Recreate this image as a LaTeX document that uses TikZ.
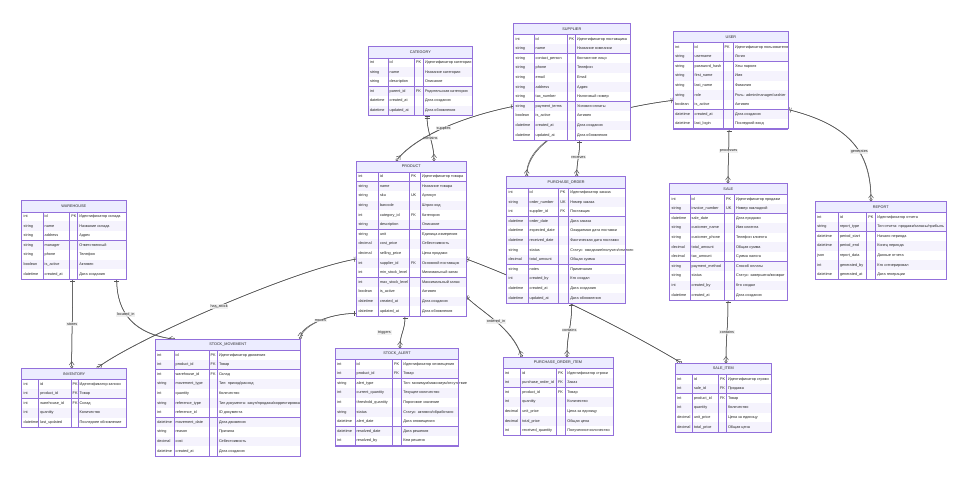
\documentclass[tikz,border=0pt]{standalone}
\usepackage{fontspec}
\setmainfont{Liberation Sans}
\usetikzlibrary{positioning,arrows.meta,calc}
\pgfdeclarelayer{paper}
\pgfdeclarelayer{background}
\pgfsetlayers{paper,background,main}
\definecolor{erborder}{HTML}{9370DB}
\definecolor{erhead}{HTML}{ECECFF}
\definecolor{errow}{HTML}{F5F3FD}
\definecolor{relgray}{HTML}{555555}
\definecolor{erlabel}{HTML}{EEEEEE}
\newcommand{\erfont}{\fontsize{3.8}{4.5}\selectfont}
\newcommand{\headh}{11}
\newcommand{\rowh}{9.6}
\tikzset{
  erframe/.style={draw=erborder,line width=0.6pt},
  erinner/.style={draw=erborder,line width=0.4pt},
  cell/.style={anchor=west,inner xsep=1.8pt,inner ysep=0pt,font=\erfont,
    text height=2.7pt,text depth=0.8pt,text=black!85},
  ertitle/.style={inner sep=0pt,font=\erfont,text=black!85},
  onlyone/.tip={Bar[width=5pt,line width=0.5pt,sep=1.4pt]Bar[width=5pt,line width=0.5pt]},
  zeromany/.tip={Straight Barb[reversed,length=3.5pt,width=5pt,line width=0.5pt]
    Circle[open,length=3pt,fill=white,line width=0.5pt]},
  rel/.style={draw=relgray,line width=0.5pt,{onlyone}-{zeromany},
    preaction={draw=relgray,line width=0.5pt,arrows=-}},
  rlabel/.style={fill=erlabel,fill opacity=0.8,text opacity=1,inner sep=0.7pt,
    font=\erfont,text=black!85},
}
% entity table: name, title, left x, top y, column widths (type,name,key,comment), rows
\newcommand{\erentity}[9]{%
  \begin{scope}[shift={(#3,#4)}]
    \pgfmathsetmacro{\ca}{#5}
    \pgfmathsetmacro{\cb}{#5+#6}
    \pgfmathsetmacro{\cc}{#5+#6+#7}
    \pgfmathsetmacro{\cd}{#5+#6+#7+#8}
    \foreach \ty/\nm/\ky/\cm [count=\i] in {#9}{
      \pgfmathsetmacro{\ya}{\headh+(\i-1)*\rowh}
      \pgfmathsetmacro{\yb}{\ya+\rowh}
      \pgfmathsetmacro{\ym}{\ya+\rowh/2}
      \ifodd\i \def\rowcol{white}\else\def\rowcol{errow}\fi
      \fill[\rowcol] (0,\ya) rectangle (\cd,\yb);
      \node[cell] at (0,\ym) {\ty};
      \node[cell] at (\ca,\ym) {\nm};
      \node[cell] at (\cb,\ym) {\ky};
      \node[cell] at (\cc,\ym) {\cm};
      \draw[erinner] (0,\yb) -- (\cd,\yb);
      \global\let\nrows\i
    }
    \pgfmathsetmacro{\toth}{\headh+\nrows*\rowh}
    \fill[erhead] (0,0) rectangle (\cd,\headh);
    \node[ertitle] at (\cd/2,\headh/2) {#2};
    \draw[erinner] (0,\headh) -- (\cd,\headh);
    \foreach \cx in {\ca,\cb,\cc}
      \draw[erinner] (\cx,\headh) -- (\cx,\toth);
    \draw[erframe] (0,0) rectangle (\cd,\toth);
    \node[minimum width=\cd pt,minimum height=\toth pt,inner sep=0pt,
      anchor=north west] (#1) at (0,0) {};
  \end{scope}
}

\begin{document}
\begin{tikzpicture}[x=1pt,y=-1pt]
\begin{pgfonlayer}{paper}
  \fill[white] (0,0) rectangle (970,479);
\end{pgfonlayer}
\useasboundingbox (0,0) rectangle (970,479);

% tables
\erentity{category}{CATEGORY}{368}{46.7}{19.7}{26.3}{9}{49.7}{%
  int/id/PK/Идентификатор категории,
  string/name//Название категории,
  string/description//Описание,
  int/parent\_id/FK/Родительская категория,
  datetime/created\_at//Дата создания,
  datetime/updated\_at//Дата обновления}
\erentity{supplier}{SUPPLIER}{513.7}{23.3}{20}{33.3}{8}{55}{%
  int/id/PK/Идентификатор поставщика,
  string/name//Название компании,
  string/contact\_person//Контактное лицо,
  string/phone//Телефон,
  string/email//Email,
  string/address//Адрес,
  string/tax\_number//Налоговый номер,
  string/payment\_terms//Условия оплаты,
  boolean/is\_active//Активен,
  datetime/created\_at//Дата создания,
  datetime/updated\_at//Дата обновления}
\erentity{user}{USER}{673.3}{31.3}{19.4}{30}{10.3}{55.3}{%
  int/id/PK/Идентификатор пользователя,
  string/username//Логин,
  string/password\_hash//Хеш пароля,
  string/first\_name//Имя,
  string/last\_name//Фамилия,
  string/role//{Роль: admin/manager/cashier},
  boolean/is\_active//Активен,
  datetime/created\_at//Дата создания,
  datetime/last\_login//Последний вход}
\erentity{product}{PRODUCT}{356.5}{161}{21.5}{31}{11}{46}{%
  int/id/PK/Идентификатор товара,
  string/name//Название товара,
  string/sku/UK/Артикул,
  string/barcode//Штрих-код,
  int/category\_id/FK/Категория,
  string/description//Описание,
  string/unit//Единица измерения,
  decimal/cost\_price//Себестоимость,
  decimal/selling\_price//Цена продажи,
  int/supplier\_id/FK/Основной поставщик,
  int/min\_stock\_level//Минимальный запас,
  int/max\_stock\_level//Максимальный запас,
  boolean/is\_active//Активен,
  datetime/created\_at//Дата создания,
  datetime/updated\_at//Дата обновления}
\erentity{purchase}{PURCHASE\_ORDER}{506.7}{176.7}{21}{30.6}{10}{57.4}{%
  int/id/PK/Идентификатор заказа,
  string/order\_number/UK/Номер заказа,
  int/supplier\_id/FK/Поставщик,
  datetime/order\_date//Дата заказа,
  datetime/expected\_date//Ожидаемая дата поставки,
  datetime/received\_date//Фактическая дата поставки,
  string/status//{Статус: ожидание/получен/отменен},
  decimal/total\_amount//Общая сумма,
  string/notes//Примечания,
  int/created\_by//Кто создал,
  datetime/created\_at//Дата создания,
  datetime/updated\_at//Дата обновления}
\erentity{sale}{SALE}{669.7}{183.3}{20}{34.3}{10}{53}{%
  int/id/PK/Идентификатор продажи,
  string/invoice\_number/UK/Номер накладной,
  datetime/sale\_date//Дата продажи,
  string/customer\_name//Имя клиента,
  string/customer\_phone//Телефон клиента,
  decimal/total\_amount//Общая сумма,
  decimal/tax\_amount//Сумма налога,
  string/payment\_method//Способ оплаты,
  string/status//{Статус: завершена/возврат},
  int/created\_by//Кто создал,
  datetime/created\_at//Дата создания}
\erentity{warehouse}{WAREHOUSE}{21.7}{200.7}{21}{26.6}{8}{48.7}{%
  int/id/PK/Идентификатор склада,
  string/name//Название склада,
  string/address//Адрес,
  string/manager//Ответственный,
  string/phone//Телефон,
  boolean/is\_active//Активен,
  datetime/created\_at//Дата создания}
\erentity{report}{REPORT}{815.3}{201.3}{22.7}{28.3}{9}{71}{%
  int/id/PK/Идентификатор отчета,
  string/report\_type//{Тип отчета: продажи/запасы/прибыль},
  datetime/period\_start//Начало периода,
  datetime/period\_end//Конец периода,
  json/report\_data//Данные отчета,
  int/generated\_by//Кто сгенерировал,
  datetime/generated\_at//Дата генерации}
\erentity{inventory}{INVENTORY}{21.7}{368.3}{16.6}{32.4}{7}{49}{%
  int/id/PK/Идентификатор записи,
  int/product\_id/FK/Товар,
  int/warehouse\_id/FK/Склад,
  int/quantity//Количество,
  datetime/last\_updated//Последнее обновление}
\erentity{stockmove}{STOCK\_MOVEMENT}{155.3}{339.3}{18.4}{35}{8.3}{83.3}{%
  int/id/PK/Идентификатор движения,
  int/product\_id/FK/Товар,
  int/warehouse\_id/FK/Склад,
  string/movement\_type//{Тип: приход/расход},
  int/quantity//Количество,
  string/reference\_type//{Тип документа: закуп/продажа/корректировка},
  int/reference\_id//ID документа,
  datetime/movement\_date//Дата движения,
  string/reason//Причина,
  decimal/cost//Себестоимость,
  datetime/created\_at//Дата создания}
\erentity{stockalert}{STOCK\_ALERT}{335.3}{348.3}{19.4}{37.3}{9.3}{57.4}{%
  int/id/PK/Идентификатор оповещения,
  int/product\_id/FK/Товар,
  string/alert\_type//{Тип: минимум/максимум/отсутствие},
  int/current\_quantity//Текущее количество,
  int/threshold\_quantity//Пороговое значение,
  string/status//{Статус: активно/обработано},
  datetime/alert\_date//Дата оповещения,
  datetime/resolved\_date//Дата решения,
  int/resolved\_by//Кем решено}
\erentity{poitem}{PURCHASE\_ORDER\_ITEM}{503}{357.3}{17.3}{35.7}{9.3}{47.7}{%
  int/id/PK/Идентификатор строки,
  int/purchase\_order\_id/FK/Заказ,
  int/product\_id/FK/Товар,
  int/quantity//Количество,
  decimal/unit\_price//Цена за единицу,
  decimal/total\_price//Общая цена,
  int/received\_quantity//Полученное количество}
\erentity{saleitem}{SALE\_ITEM}{675.3}{363.3}{16.7}{26}{8}{45.3}{%
  int/id/PK/Идентификатор строки,
  int/sale\_id/FK/Продажа,
  int/product\_id/FK/Товар,
  int/quantity//Количество,
  decimal/unit\_price//Цена за единицу,
  decimal/total\_price//Общая цена}

% relationships, kept under the tables
\begin{pgfonlayer}{background}
  \draw[rel] ($(category.south west)+(59,0)$)
    .. controls +(0,18) and +(0,-18) .. ($(product.north west)+(77.5,0)$)
    node[rlabel,pos=0.5] {contains};
  \draw[rel] ($(supplier.north west)+(0,83)$)
    .. controls +(-50,10) and +(20,-25) .. ($(product.north west)+(39.5,0)$)
    node[rlabel,pos=0.5] {supplies};
  \draw[rel] ($(supplier.south west)+(66,0)$)
    .. controls +(0,15) and +(0,-15) .. ($(purchase.north west)+(70,0)$)
    node[rlabel,pos=0.45] {receives};
  \draw[rel] ($(user.north west)+(0,69)$)
    .. controls +(-80,10) and +(0,-40) .. ($(purchase.north west)+(20,0)$);
  \draw[rel] ($(user.south west)+(55.7,0)$)
    .. controls +(0,20) and +(0,-20) .. ($(sale.north west)+(58.3,0)$)
    node[rlabel,pos=0.4] {processes};
  \draw[rel] ($(user.north east)+(0,78.4)$)
    .. controls +(60,15) and +(0,-50) .. ($(report.north west)+(55.7,0)$)
    node[rlabel,pos=0.6] {generates};
  \draw[rel] ($(warehouse.south west)+(51,0)$)
    .. controls +(0,40) and +(0,-40) .. ($(inventory.north west)+(50,0)$)
    node[rlabel,pos=0.5] {stores};
  \draw[rel] ($(warehouse.south west)+(95,0)$)
    .. controls +(0,35) and +(-40,-5) .. ($(stockmove.north west)+(20,0)$)
    node[rlabel,pos=0.4] {located\_in};
  \draw[rel] ($(product.north west)+(0,98)$)
    .. controls +(-60,10) and +(40,-30) .. ($(inventory.north west)+(75,0)$)
    node[rlabel,pos=0.5] {has\_stock};
  \draw[rel] ($(product.south west)+(0,-3)$)
    .. controls +(-30,0) and +(0,-12) .. ($(stockmove.north east)+(-0.3,0)$)
    node[rlabel,pos=0.45] {moves};
  \draw[rel] ($(product.south west)+(48.5,0)$)
    .. controls +(0,15) and +(0,-15) .. ($(stockalert.north west)+(64.7,0)$)
    node[rlabel,pos=0.5,xshift=-18] {triggers};
  \draw[rel] ($(product.north east)+(0,136)$)
    .. controls +(15,15) and +(-10,-30) .. ($(poitem.north west)+(19,0)$)
    node[rlabel,pos=0.5] {ordered\_in};
  \draw[rel] ($(purchase.south west)+(65,0)$)
    .. controls +(0,25) and +(0,-25) .. ($(poitem.north west)+(64,0)$)
    node[rlabel,pos=0.5] {contains};
  \draw[rel] ($(product.north east)+(0,98)$)
    .. controls +(80,30) and +(-50,-30) .. ($(saleitem.north west)+(6.7,0)$);
  \draw[rel] ($(sale.south west)+(58.3,0)$)
    .. controls +(0,30) and +(0,-30) .. ($(saleitem.north west)+(50.7,0)$)
    node[rlabel,pos=0.5] {contains};
\end{pgfonlayer}
\end{tikzpicture}
\end{document}
